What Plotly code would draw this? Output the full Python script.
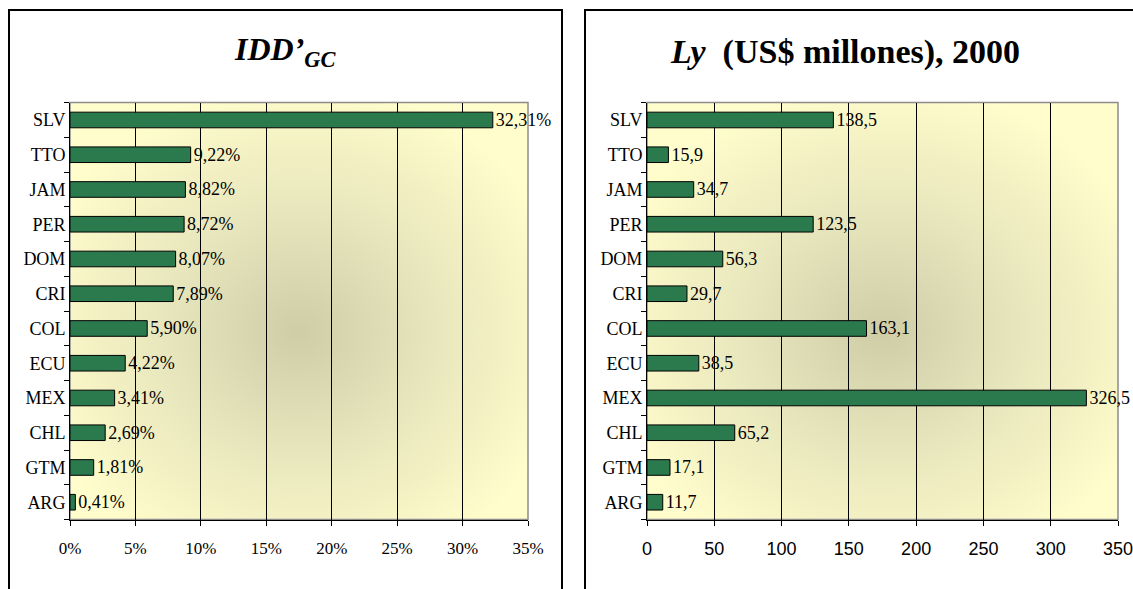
import plotly.graph_objects as go
import base64

countries = ["SLV", "TTO", "JAM", "PER", "DOM", "CRI", "COL", "ECU", "MEX", "CHL", "GTM", "ARG"]
idd_gc = [32.31, 9.22, 8.82, 8.72, 8.07, 7.89, 5.90, 4.22, 3.41, 2.69, 1.81, 0.41]
ly_musd = [138.5, 15.9, 34.7, 123.5, 56.3, 29.7, 163.1, 38.5, 326.5, 65.2, 17.1, 11.7]
left_ticks = [0, 5, 10, 15, 20, 25, 30, 35]
left_ticktext = ["0%", "5%", "10%", "15%", "20%", "25%", "30%", "35%"]
right_ticks = [0, 50, 100, 150, 200, 250, 300, 350]

W, H = 1133, 589
def px(x): return x / W
def py(y): return 1 - y / H

L_x = (px(70), px(528))
R_x = (px(647), px(1118))
Y_d = (py(519.6), py(102.6))

BAR = "#2A7A4E"
SERIF = "Liberation Serif"
SANS = "Liberation Sans"

svg = """<svg xmlns='http://www.w3.org/2000/svg' width='400' height='400' preserveAspectRatio='none' viewBox='0 0 400 400'>
<defs><radialGradient id='g' cx='0.5' cy='0.55' r='0.6'>
<stop offset='0' stop-color='#CFCDA6'/>
<stop offset='0.45' stop-color='#E6E4BB'/>
<stop offset='1' stop-color='#FFFDCB'/>
</radialGradient></defs>
<rect width='400' height='400' fill='url(#g)'/></svg>"""
uri = "data:image/svg+xml;base64," + base64.b64encode(svg.encode()).decode()

left_text = [f"{v:.2f}".replace(".", ",") + "%" for v in idd_gc]
right_text = [f"{v:.1f}".replace(".", ",") for v in ly_musd]

fig = go.Figure()
fig.add_trace(go.Bar(
    y=countries, x=idd_gc, orientation="h", xaxis="x", yaxis="y",
    marker=dict(color=BAR, line=dict(color="black", width=1)),
    text=left_text, textposition="outside", cliponaxis=False, constraintext="none",
    textfont=dict(family=SERIF, size=18, color="black"), showlegend=False))
fig.add_trace(go.Bar(
    y=countries, x=ly_musd, orientation="h", xaxis="x2", yaxis="y2",
    marker=dict(color=BAR, line=dict(color="black", width=1)),
    text=right_text, textposition="outside", cliponaxis=False, constraintext="none",
    textfont=dict(family=SERIF, size=18, color="black"), showlegend=False))

cat_order = list(reversed(countries))
yax = dict(type="category", categoryorder="array", categoryarray=cat_order,
           tickson="boundaries", ticks="outside", ticklen=5, tickcolor="black",
           showline=True, linecolor="black", linewidth=1, showgrid=False, automargin=False,
           tickfont=dict(family=SERIF, size=18, color="black"), domain=Y_d, fixedrange=True)
xax = dict(showgrid=True, gridcolor="black", gridwidth=1, showline=True, linecolor="black",
           linewidth=1, ticks="outside", ticklen=5, tickcolor="black", zeroline=False,
           ticklabelstandoff=8, automargin=False, ticklabeloverflow="allow")

fig.update_layout(
    width=W, height=H, autosize=False, margin=dict(l=0, r=0, t=0, b=0, autoexpand=False),
    paper_bgcolor="white", plot_bgcolor="rgba(0,0,0,0)",
    bargap=0.55,
    xaxis=dict(xax, domain=L_x, range=[0, 35], tickvals=left_ticks, ticktext=left_ticktext,
               tickfont=dict(family=SERIF, size=17, color="black"), anchor="y"),
    yaxis=dict(yax, anchor="x"),
    xaxis2=dict(xax, domain=R_x, range=[0, 350], tickvals=right_ticks,
                tickfont=dict(family=SANS, size=18, color="black"), anchor="y2"),
    yaxis2=dict(yax, anchor="x2"),
)

for xd in (L_x, R_x):
    fig.add_layout_image(dict(source=uri, xref="paper", yref="paper",
                              x=xd[0], y=Y_d[1], sizex=xd[1] - xd[0], sizey=Y_d[1] - Y_d[0],
                              sizing="stretch", layer="below", xanchor="left", yanchor="top"))
    fig.add_shape(type="rect", xref="paper", yref="paper", x0=xd[0], x1=xd[1], y0=Y_d[0], y1=Y_d[1],
                  line=dict(color="#8C8C8C", width=1.5), layer="below")

# panel frames
fig.add_shape(type="rect", xref="paper", yref="paper", x0=px(9), x1=px(562), y0=-0.05, y1=py(10),
              line=dict(color="black", width=2))
fig.add_shape(type="rect", xref="paper", yref="paper", x0=px(585), x1=1.05, y0=-0.05, y1=py(10),
              line=dict(color="black", width=2))

fig.add_annotation(x=px(232), y=py(52), xref="paper", yref="paper", showarrow=False,
                   xanchor="left", yanchor="middle",
                   text="<b><i>IDD’<sub>GC</sub></i></b>",
                   font=dict(family=SERIF, size=32, color="black"))
fig.add_annotation(x=px(668), y=py(52), xref="paper", yref="paper", showarrow=False,
                   xanchor="left", yanchor="middle",
                   text="<b><i>Ly</i>\u00a0\u00a0(US$ millones), 2000</b>",
                   font=dict(family=SERIF, size=34, color="black"))

fig.write_html("out.html", config={"displayModeBar": False, "responsive": False},
               post_script="document.body.style.margin='0';document.body.style.overflow='hidden';")
